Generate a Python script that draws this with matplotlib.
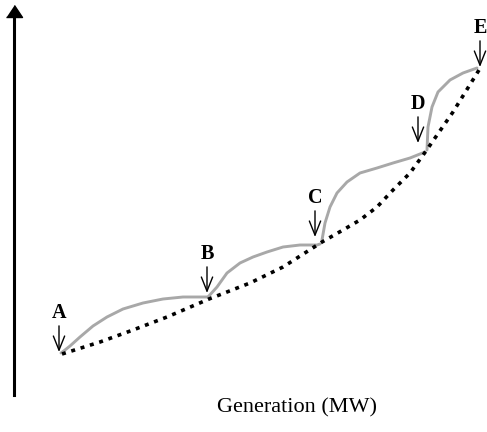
import numpy as np
import matplotlib.pyplot as plt

# incremental cost curve (dotted) - generation vs cost, arbitrary units
dot_gen = [48, 86, 119, 153, 195, 236, 269, 308, 329, 346, 363, 379, 396, 412, 439, 465]
dot_cost = [41, 53, 65, 78, 96, 112, 128, 153, 165, 175, 188, 205, 222, 244, 283, 325]

# gray transition curves between the block points
seg_gen = [
    [47, 51, 56, 66, 79, 93, 109, 129, 149, 169, 189, 196],
    [194, 203, 213, 226, 239, 253, 269, 286, 303, 306],
    [308, 311, 316, 323, 333, 346, 363, 379, 396, 411],
    [413, 414, 418, 424, 436, 449, 463],
]
seg_cost = [
    [42, 45, 49, 58, 69, 78, 86, 92, 96, 98, 98, 98],
    [98, 108, 122, 132, 138, 143, 148, 150, 150, 151],
    [155, 172, 188, 202, 213, 222, 227, 232, 237, 243],
    [245, 268, 288, 303, 315, 322, 327],
]

# labelled points (arrow tips)
labels = ['A', 'B', 'C', 'D', 'E']
tip_gen = [45, 193, 301, 404, 466]
tip_cost = [43, 102, 158, 252, 328]

fig = plt.figure(figsize=(4.87, 4.32), dpi=100)
ax = fig.add_axes([14 / 487, (432 - 395) / 432, (487 - 14) / 487, (395 - 17) / 432])
ax.set_xlim(0, 473)
ax.set_ylim(0, 378)

for sx, sy in zip(seg_gen, seg_cost):
    ax.plot(sx, sy, color='#a8a8a8', lw=2.1, solid_capstyle='round',
            solid_joinstyle='round', clip_on=False)

ax.plot(dot_gen, dot_cost, color='black', lw=2.6, linestyle=(0, (1.1, 1.6)),
        clip_on=False)

for lab, gx, gy in zip(labels, tip_gen, tip_cost):
    ax.annotate(lab, xy=(gx, gy), xytext=(0, 28), textcoords='offset points',
                ha='center', va='center', fontsize=14.5, fontweight='bold',
                family='Liberation Serif',
                arrowprops=dict(arrowstyle='->,head_length=0.7,head_width=0.28',
                                lw=1.0, color='black', shrinkA=0, shrinkB=0))

# y axis with arrow head
for s in ['top', 'right', 'bottom']:
    ax.spines[s].set_visible(False)
ax.spines['left'].set_linewidth(2.2)
ax.set_xticks([])
ax.set_yticks([])
head = [(-8, 0), (8, 0), (0, 12)]
ax.plot([0], [1], marker=head, markersize=17.3, color='black',
        transform=ax.transAxes, clip_on=False)

fig.text(297 / 487, 1 - 408 / 432, 'Generation (MW)', ha='center', va='center',
         fontsize=16, family='Liberation Serif')

fig.savefig('out.png', dpi=100)
